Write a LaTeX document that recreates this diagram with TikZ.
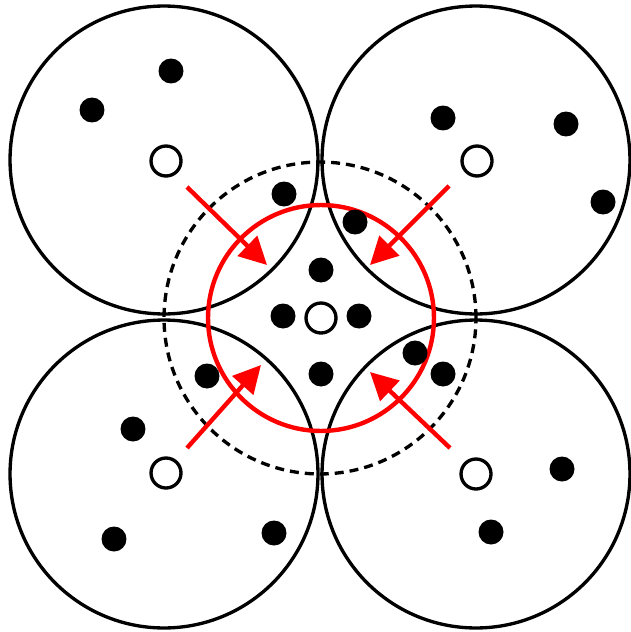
\documentclass[tikz,border=0pt]{standalone}
\usepackage{tikz}
\usetikzlibrary{arrows.meta}
\definecolor{pull}{HTML}{FF0000}
\tikzset{
  cluster/.style={draw=black, line width=1.9pt},
  reach/.style={draw=black, line width=1.9pt, dash pattern=on 0.18cm off 0.12cm},
  merge/.style={draw=pull, line width=2.5pt},
  pt/.style={circle, fill=black, inner sep=0pt, minimum size=0.5cm},
  seed/.style={circle, draw=black, fill=white, line width=1.9pt, inner sep=0pt, minimum size=0.6cm},
  pullarrow/.style={draw=pull, line width=2.5pt, -{Triangle[length=0.55cm,width=0.55cm]}},
}
\begin{document}
\begin{tikzpicture}[x=0.02cm,y=-0.02cm]
\useasboundingbox (0,0) rectangle (631,632);
% the four clusters
\draw[cluster] (164,160) circle[radius=3.08cm];
\draw[cluster] (476,160) circle[radius=3.08cm];
\draw[cluster] (164,474) circle[radius=3.08cm];
\draw[cluster] (476,474) circle[radius=3.08cm];
% search radius and merged cluster
\draw[reach] (320,318) circle[radius=3.12cm];
\draw[merge] (321,318) circle[radius=2.26cm];
% points
\node[pt] (a1) at (171,71) {};
\node[pt] (a2) at (92,110) {};
\node[pt] (a3) at (284,194) {};
\node[pt] (b1) at (443,118) {};
\node[pt] (b2) at (566,124) {};
\node[pt] (b3) at (603,202) {};
\node[pt] (b4) at (355,222) {};
\node[pt] (m1) at (321,270) {};
\node[pt] (m2) at (283,316) {};
\node[pt] (m3) at (359,316) {};
\node[pt] (m4) at (321,374) {};
\node[pt] (d1) at (415,353) {};
\node[pt] (d2) at (443,374) {};
\node[pt] (d3) at (562,469) {};
\node[pt] (d4) at (491,532) {};
\node[pt] (c1) at (207,376) {};
\node[pt] (c2) at (133,429) {};
\node[pt] (c3) at (114,539) {};
\node[pt] (c4) at (274,533) {};
% centres
\node[seed] (sa) at (166,161) {};
\node[seed] (sb) at (477,161) {};
\node[seed] (sc) at (166,473) {};
\node[seed] (sd) at (476,474) {};
\node[seed] (sm) at (321,318) {};
% arrows
\coordinate (fa) at (187,187);
\coordinate (ta) at (267,265);
\coordinate (fb) at (449,186);
\coordinate (tb) at (370,265);
\coordinate (fc) at (187,448);
\coordinate (tc) at (261,365);
\coordinate (fd) at (450,448);
\coordinate (td) at (370,372);
\draw[pullarrow] (fa) -- (ta);
\draw[pullarrow] (fb) -- (tb);
\draw[pullarrow] (fc) -- (tc);
\draw[pullarrow] (fd) -- (td);
\end{tikzpicture}
\end{document}
